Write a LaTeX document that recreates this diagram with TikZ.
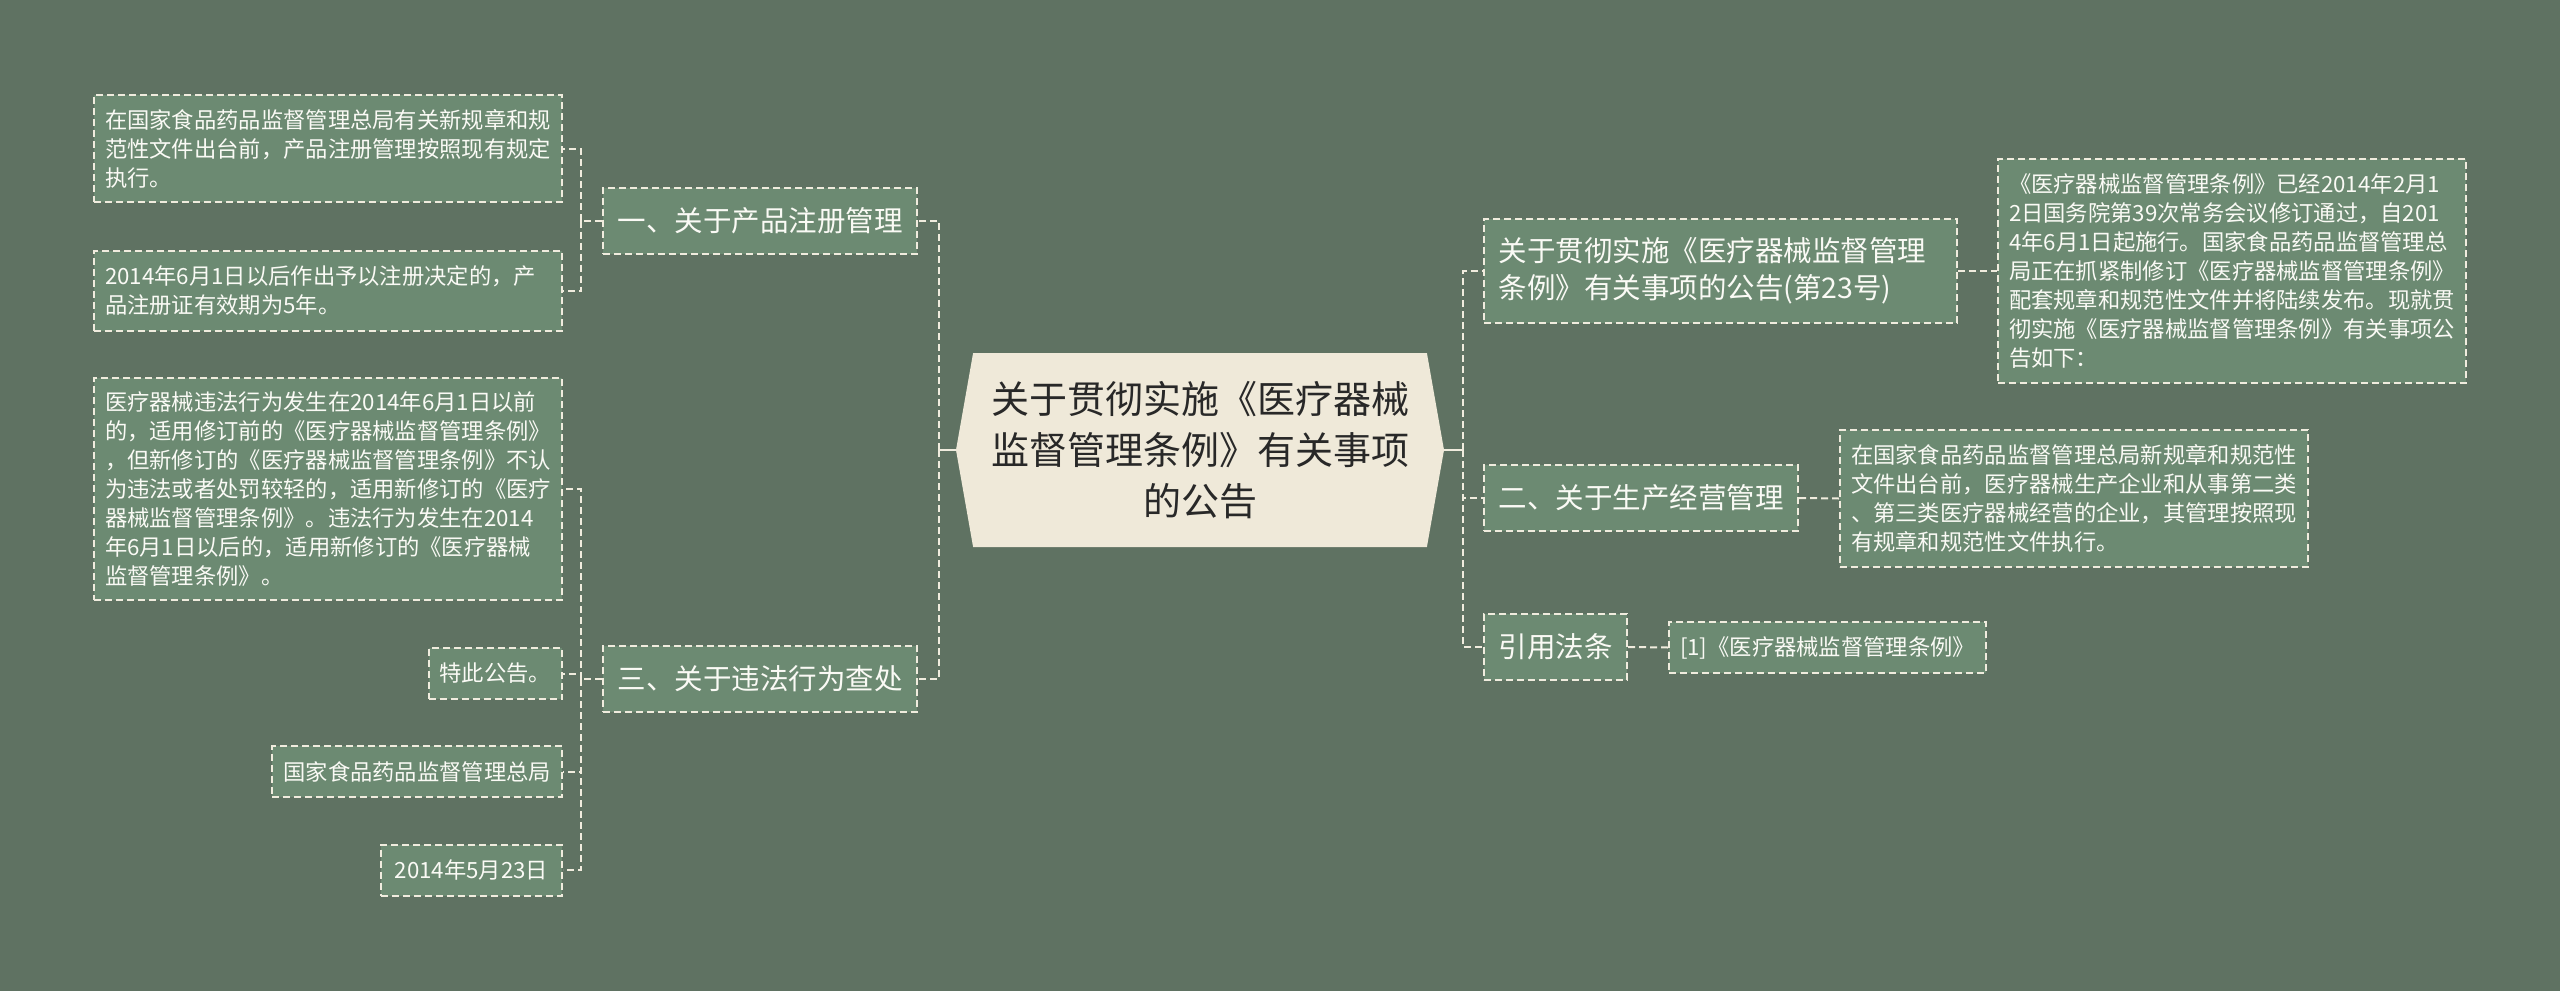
\documentclass[tikz,border=0pt]{standalone}
\usepackage{fontspec}
\setmainfont{Noto Sans CJK SC}
\usetikzlibrary{shapes.symbols}
\definecolor{bgc}{RGB}{95,114,98}
\definecolor{nodec}{RGB}{108,138,114}
\definecolor{mainc}{RGB}{239,233,217}
\definecolor{linec}{RGB}{240,236,222}
\definecolor{textc}{RGB}{250,250,245}
\definecolor{maintext}{RGB}{40,40,40}
\tikzstyle{link}=[draw=linec,line width=1pt,dash pattern=on 3.5pt off 2pt]
\tikzstyle{stem}=[draw=linec,line width=1pt]
\tikzstyle{hub}=[shape=signal,signal to=west and east,signal pointer angle=160,fill=mainc,text=maintext,font=\fontsize{19}{25.5}\selectfont,align=center,inner sep=0pt,minimum width=244pt,minimum height=97pt]
\tikzstyle{topic}=[link,fill=nodec,text=textc,font=\fontsize{14.25}{18.5}\selectfont,align=left,inner xsep=7.25pt,inner ysep=0pt,minimum height=33pt]
\tikzstyle{leaf}=[link,fill=nodec,text=textc,font=\fontsize{11.15}{14.5}\selectfont,align=left,inner xsep=5.5pt,inner ysep=0pt,minimum height=25.5pt]

\begin{document}
\begin{tikzpicture}[x=0.5pt,y=-0.5pt]
\fill[bgc] (0,0) rectangle (2560,991);
\useasboundingbox (0,0) rectangle (2560,991);

\node[hub] (main) at (1200,450) {关于贯彻实施《医疗器械\\监督管理条例》有关事项\\的公告};

% left branches
\node[topic,anchor=east] (reg) at (918,220.5) {一、关于产品注册管理};
\node[topic,anchor=east] (law) at (918,679) {三、关于违法行为查处};

\node[leaf,anchor=east,minimum height=53.5pt] (reg1) at (563,148.5) {在国家食品药品监督管理总局有关新规章和规\\范性文件出台前，产品注册管理按照现有规定\\执行。};
\node[leaf,anchor=east,minimum height=40pt,text width=223pt] (reg2) at (563,291) {2014年6月1日以后作出予以注册决定的，产\\品注册证有效期为5年。};

\node[leaf,anchor=east,minimum height=111pt] (law1) at (563,489) {医疗器械违法行为发生在2014年6月1日以前\\的，适用修订前的《医疗器械监督管理条例》\\，但新修订的《医疗器械监督管理条例》不认\\为违法或者处罚较轻的，适用新修订的《医疗\\器械监督管理条例》。违法行为发生在2014\\年6月1日以后的，适用新修订的《医疗器械\\监督管理条例》。};
\node[leaf,anchor=east] (law2) at (563,673.5) {特此公告。};
\node[leaf,anchor=east] (law3) at (563,771.5) {国家食品药品监督管理总局};
\node[leaf,anchor=east,minimum width=90.5pt] (law4) at (563,870) {2014年5月23日};

% right branches
\node[topic,anchor=west,minimum height=52pt,text width=222pt] (notice) at (1483,271) {关于贯彻实施《医疗器械监督管理\\条例》有关事项的公告(第23号)};
\node[topic,anchor=west] (biz) at (1483,498) {二、关于生产经营管理};
\node[topic,anchor=west] (ref) at (1483,647) {引用法条};

\node[leaf,anchor=west,minimum height=112pt] (notice1) at (1997,271) {《医疗器械监督管理条例》已经2014年2月1\\2日国务院第39次常务会议修订通过，自201\\4年6月1日起施行。国家食品药品监督管理总\\局正在抓紧制修订《医疗器械监督管理条例》\\配套规章和规范性文件并将陆续发布。现就贯\\彻实施《医疗器械监督管理条例》有关事项公\\告如下：};
\node[leaf,anchor=west,minimum height=68.5pt] (biz1) at (1839,498.5) {在国家食品药品监督管理总局新规章和规范性\\文件出台前，医疗器械生产企业和从事第二类\\、第三类医疗器械经营的企业，其管理按照现\\有规章和规范性文件执行。};
\node[leaf,anchor=west] (ref1) at (1668,647.5) {[1]《医疗器械监督管理条例》};

% connectors
\draw[stem] (main.west) -- ++(-17,0) coordinate (lj);
\foreach \n in {reg,law} \draw[link] (lj) |- (\n.east);
\draw[stem] (main.east) -- ++(19,0) coordinate (rj);
\foreach \n in {notice,biz,ref} \draw[link] (rj) |- (\n.west);

\draw[link] (reg.west) -- ++(-21,0) coordinate (rega);
\foreach \n in {reg1,reg2} \draw[link] (rega) |- (\n.east);
\draw[link] (law.west) -- ++(-21,0) coordinate (lawa);
\foreach \n in {law1,law2,law3,law4} \draw[link] (lawa) |- (\n.east);

\draw[link] (notice.east) -- (notice1.west);
\draw[link] (biz.east) -- (biz1.west);
\draw[link] (ref.east) -- (ref1.west);
\end{tikzpicture}
\end{document}
